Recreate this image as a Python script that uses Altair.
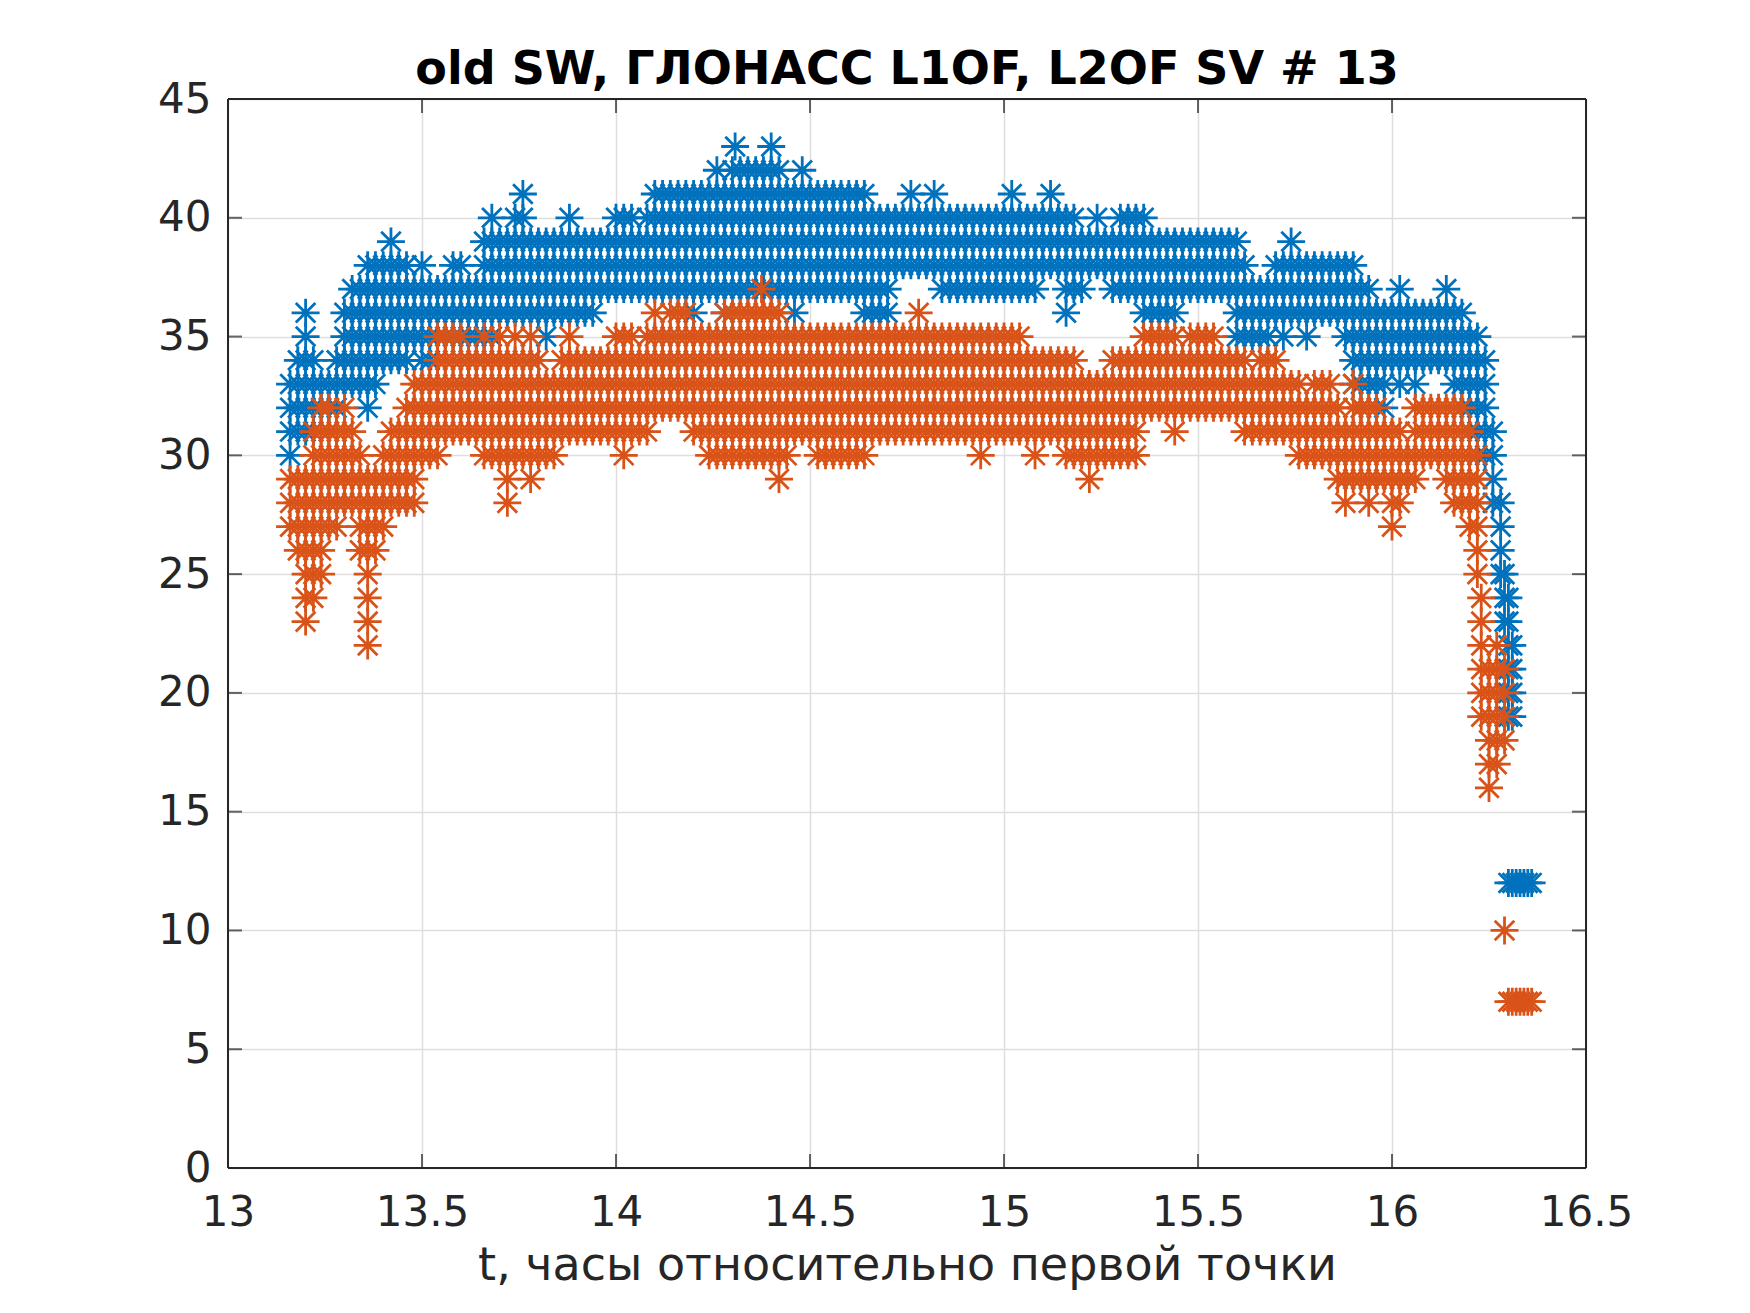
import altair as alt
import pandas as pd

TITLE = "old SW, ГЛОНАСС L1OF, L2OF SV # 13"
X_TITLE = "t, часы относительно первой точки"
X_TICKS = [13, 13.5, 14, 14.5, 15, 15.5, 16, 16.5]
Y_TICKS = [0, 5, 10, 15, 20, 25, 30, 35, 40, 45]
SERIES = ["L1OF", "L2OF"]
COLORS = ["#0072BD", "#D95319"]

# L1OF (blue): per time bin, lowest and highest C/N0 value present
BLUE_T = [13.16, 13.18, 13.20, 13.22, 13.24, 13.26, 13.28, 13.30, 13.32, 13.34,
          13.36, 13.38, 13.40, 13.42, 13.44, 13.46, 13.48, 13.50, 13.52, 13.54,
          13.56, 13.58, 13.60, 13.62, 13.64, 13.66, 13.68, 13.70, 13.72, 13.74,
          13.76, 13.78, 13.80, 13.82, 13.84, 13.86, 13.88, 13.90, 13.92, 13.94,
          13.96, 13.98, 14.00, 14.02, 14.04, 14.06, 14.08, 14.10, 14.12, 14.14,
          14.16, 14.18, 14.20, 14.22, 14.24, 14.26, 14.28, 14.30, 14.32, 14.34,
          14.36, 14.38, 14.40, 14.42, 14.44, 14.46, 14.48, 14.50, 14.52, 14.54,
          14.56, 14.58, 14.60, 14.62, 14.64, 14.66, 14.68, 14.70, 14.72, 14.74,
          14.76, 14.78, 14.80, 14.82, 14.84, 14.86, 14.88, 14.90, 14.92, 14.94,
          14.96, 14.98, 15.00, 15.02, 15.04, 15.06, 15.08, 15.10, 15.12, 15.14,
          15.16, 15.18, 15.20, 15.22, 15.24, 15.26, 15.28, 15.30, 15.32, 15.34,
          15.36, 15.38, 15.40, 15.42, 15.44, 15.46, 15.48, 15.50, 15.52, 15.54,
          15.56, 15.58, 15.60, 15.62, 15.64, 15.66, 15.68, 15.70, 15.72, 15.74,
          15.76, 15.78, 15.80, 15.82, 15.84, 15.86, 15.88, 15.90, 15.92, 15.94,
          15.96, 15.98, 16.00, 16.02, 16.04, 16.06, 16.08, 16.10, 16.12, 16.14,
          16.16, 16.18, 16.20, 16.22, 16.24, 16.26, 16.28, 16.29, 16.30, 16.31]
BLUE_LO = [30, 31, 31, 31, 32, 31, 32, 33, 33, 33,
           32, 33, 34, 34, 34, 34, 35, 34, 34, 35,
           35, 35, 35, 35, 35, 35, 35, 36, 36, 36,
           36, 36, 36, 35, 36, 36, 36, 36, 36, 36,
           37, 37, 37, 37, 37, 37, 37, 37, 37, 37,
           37, 37, 36, 37, 37, 37, 36, 37, 37, 37,
           37, 37, 37, 37, 37, 36, 37, 37, 37, 37,
           37, 37, 37, 37, 36, 36, 36, 36, 38, 38,
           38, 38, 38, 38, 37, 37, 37, 37, 37, 37,
           37, 37, 37, 37, 37, 37, 37, 38, 38, 38,
           36, 37, 37, 38, 38, 38, 37, 37, 37, 37,
           36, 36, 36, 36, 36, 37, 37, 37, 37, 37,
           37, 37, 35, 35, 35, 35, 35, 36, 35, 36,
           36, 35, 36, 36, 36, 36, 35, 33, 32, 33,
           33, 32, 34, 33, 34, 33, 34, 34, 34, 34,
           33, 32, 31, 30, 30, 28, 25, 23, 19, 19]
BLUE_HI = [33, 34, 36, 34, 33, 33, 34, 36, 37, 37,
           38, 38, 38, 39, 38, 38, 37, 38, 37, 37,
           37, 38, 38, 37, 37, 39, 40, 39, 39, 40,
           41, 39, 39, 39, 39, 39, 40, 39, 39, 39,
           39, 39, 40, 40, 40, 39, 40, 41, 41, 41,
           41, 41, 41, 41, 41, 42, 41, 42, 42, 42,
           42, 42, 42, 42, 41, 41, 42, 41, 41, 41,
           41, 41, 41, 41, 41, 40, 40, 40, 40, 40,
           41, 40, 40, 41, 40, 40, 40, 40, 40, 40,
           40, 40, 40, 41, 40, 40, 40, 40, 41, 40,
           40, 40, 39, 39, 40, 39, 39, 40, 40, 40,
           40, 39, 39, 39, 39, 39, 39, 39, 39, 39,
           39, 39, 39, 38, 37, 37, 37, 38, 38, 39,
           38, 38, 38, 38, 38, 38, 38, 38, 37, 37,
           36, 36, 36, 37, 36, 36, 36, 36, 36, 37,
           36, 36, 35, 35, 34, 31, 28, 25, 24, 22]

# L2OF (orange)
ORANGE_T = [13.16, 13.18, 13.20, 13.22, 13.24, 13.26, 13.28, 13.30, 13.32, 13.34,
            13.36, 13.38, 13.40, 13.42, 13.44, 13.46, 13.48, 13.50, 13.52, 13.54,
            13.56, 13.58, 13.60, 13.62, 13.64, 13.66, 13.68, 13.70, 13.72, 13.74,
            13.76, 13.78, 13.80, 13.82, 13.84, 13.86, 13.88, 13.90, 13.92, 13.94,
            13.96, 13.98, 14.00, 14.02, 14.04, 14.06, 14.08, 14.10, 14.12, 14.14,
            14.16, 14.18, 14.20, 14.22, 14.24, 14.26, 14.28, 14.30, 14.32, 14.34,
            14.36, 14.38, 14.40, 14.42, 14.44, 14.46, 14.48, 14.50, 14.52, 14.54,
            14.56, 14.58, 14.60, 14.62, 14.64, 14.66, 14.68, 14.70, 14.72, 14.74,
            14.76, 14.78, 14.80, 14.82, 14.84, 14.86, 14.88, 14.90, 14.92, 14.94,
            14.96, 14.98, 15.00, 15.02, 15.04, 15.06, 15.08, 15.10, 15.12, 15.14,
            15.16, 15.18, 15.20, 15.22, 15.24, 15.26, 15.28, 15.30, 15.32, 15.34,
            15.36, 15.38, 15.40, 15.42, 15.44, 15.46, 15.48, 15.50, 15.52, 15.54,
            15.56, 15.58, 15.60, 15.62, 15.64, 15.66, 15.68, 15.70, 15.72, 15.74,
            15.76, 15.78, 15.80, 15.82, 15.84, 15.86, 15.88, 15.90, 15.92, 15.94,
            15.96, 15.98, 16.00, 16.02, 16.04, 16.06, 16.08, 16.10, 16.12, 16.14,
            16.16, 16.18, 16.20, 16.22, 16.23, 16.25, 16.27, 16.29]
ORANGE_LO = [27, 26, 23, 24, 25, 27, 27, 28, 28, 26,
             22, 26, 27, 28, 28, 28, 28, 30, 30, 30,
             31, 31, 31, 31, 31, 30, 30, 30, 28, 30,
             30, 29, 30, 30, 30, 31, 31, 31, 31, 31,
             31, 31, 31, 30, 31, 31, 31, 32, 32, 32,
             32, 32, 31, 31, 30, 30, 30, 30, 30, 30,
             30, 30, 30, 29, 30, 31, 31, 31, 30, 30,
             30, 30, 30, 30, 30, 31, 31, 31, 31, 31,
             31, 31, 31, 31, 31, 31, 31, 31, 31, 30,
             31, 31, 31, 31, 31, 31, 30, 31, 31, 31,
             30, 30, 30, 29, 30, 30, 30, 30, 30, 30,
             32, 32, 32, 32, 31, 32, 32, 32, 32, 32,
             32, 32, 32, 31, 31, 31, 31, 31, 31, 31,
             30, 30, 30, 30, 30, 29, 28, 29, 29, 28,
             29, 29, 27, 28, 29, 29, 30, 30, 30, 29,
             28, 28, 27, 25, 19, 16, 17, 18]
ORANGE_HI = [29, 29, 29, 31, 32, 32, 31, 32, 31, 30,
             29, 29, 30, 31, 31, 32, 33, 33, 33, 35,
             35, 35, 35, 34, 34, 35, 34, 35, 34, 35,
             34, 35, 34, 33, 33, 34, 35, 34, 34, 34,
             34, 34, 35, 35, 35, 34, 35, 36, 35, 36,
             36, 36, 35, 35, 35, 35, 36, 36, 36, 36,
             36, 36, 36, 36, 35, 35, 35, 35, 35, 35,
             35, 35, 35, 35, 35, 35, 35, 35, 35, 35,
             35, 36, 35, 35, 35, 35, 35, 35, 35, 35,
             35, 35, 35, 35, 35, 34, 34, 34, 34, 34,
             34, 34, 33, 33, 33, 33, 34, 34, 34, 34,
             35, 35, 35, 35, 35, 34, 35, 35, 35, 35,
             34, 34, 34, 34, 33, 34, 34, 34, 33, 33,
             33, 32, 33, 33, 33, 32, 31, 33, 32, 32,
             32, 31, 31, 31, 30, 32, 32, 32, 32, 32,
             32, 32, 31, 30, 24, 21, 22, 21]

# isolated points
BLUE_EXTRA_T = [14.307, 14.40, 16.30, 16.31, 16.32, 16.33, 16.34, 16.35, 16.36]
BLUE_EXTRA_Y = [43, 43, 12, 12, 12, 12, 12, 12, 12]
ORANGE_EXTRA_T = [14.375, 16.29, 16.30, 16.31, 16.32, 16.33, 16.34, 16.35, 16.36]
ORANGE_EXTRA_Y = [37, 10, 7, 7, 7, 7, 7, 7, 7]

rows = []
for t, lo, hi in zip(BLUE_T, BLUE_LO, BLUE_HI):
    for v in range(lo, hi + 1):
        rows.append({"t": t, "v": v, "s": SERIES[0], "o": 0})
for t, v in zip(BLUE_EXTRA_T, BLUE_EXTRA_Y):
    rows.append({"t": t, "v": v, "s": SERIES[0], "o": 0})
for t, lo, hi in zip(ORANGE_T, ORANGE_LO, ORANGE_HI):
    for v in range(lo, hi + 1):
        rows.append({"t": t, "v": v, "s": SERIES[1], "o": 1})
for t, v in zip(ORANGE_EXTRA_T, ORANGE_EXTRA_Y):
    rows.append({"t": t, "v": v, "s": SERIES[1], "o": 1})
df = pd.DataFrame(rows)

W, H = 1358, 1069
AXC = "#262626"
FONT = "DejaVu Sans"
ASTER = "M-1,0L1,0M0,-1L0,1M-0.7,-0.7L0.7,0.7M-0.7,0.7L0.7,-0.7"

xscale = alt.Scale(domain=[13, 16.5], nice=False, zero=False)
yscale = alt.Scale(domain=[0, 45], nice=False, zero=False)

X_AXIS = alt.Axis(
    values=X_TICKS, format="~g", title=X_TITLE, ticks=False, domain=False,
    labelFont=FONT, labelFontSize=42, labelColor=AXC, labelPadding=24, labelFlush=False,
    titleFont=FONT, titleFontSize=46, titleFontWeight="normal", titleColor=AXC,
    titleBaseline="alphabetic", titleY=111,
    grid=True, gridColor="#DEDEDE", gridWidth=1.5)
Y_AXIS = alt.Axis(
    values=Y_TICKS, title="", ticks=False, domain=False,
    labelFont=FONT, labelFontSize=42, labelColor=AXC, labelPadding=17, labelFlush=False,
    grid=True, gridColor="#DEDEDE", gridWidth=1.5)

points = alt.Chart(df).mark_point(
    shape=ASTER, filled=False, size=784, strokeWidth=2.8, opacity=1
).encode(
    x=alt.X("t:Q", scale=xscale, axis=X_AXIS, title=X_TITLE),
    y=alt.Y("v:Q", scale=yscale, axis=Y_AXIS, title=""),
    color=alt.Color("s:N", scale=alt.Scale(domain=SERIES, range=COLORS), legend=None),
    order=alt.Order("o:Q"),
)

xt = pd.DataFrame({"t": X_TICKS})
yt = pd.DataFrame({"v": Y_TICKS})
tk = dict(size=14, thickness=2, color=AXC)
tick_bottom = alt.Chart(xt).mark_tick(orient="vertical", yOffset=-7, **tk).encode(
    x=alt.X("t:Q", scale=xscale, title=X_TITLE), y=alt.datum(0))
tick_top = alt.Chart(xt).mark_tick(orient="vertical", yOffset=7, **tk).encode(
    x=alt.X("t:Q", scale=xscale, title=X_TITLE), y=alt.datum(45))
tick_left = alt.Chart(yt).mark_tick(orient="horizontal", xOffset=7, **tk).encode(
    y=alt.Y("v:Q", scale=yscale, title=""), x=alt.datum(13))
tick_right = alt.Chart(yt).mark_tick(orient="horizontal", xOffset=-7, **tk).encode(
    y=alt.Y("v:Q", scale=yscale, title=""), x=alt.datum(16.5))

box = dict(color=AXC, strokeWidth=2)
edge_bottom = alt.Chart().mark_rule(**box).encode(y=alt.datum(0))
edge_top = alt.Chart().mark_rule(**box).encode(y=alt.datum(45))
edge_left = alt.Chart().mark_rule(**box).encode(x=alt.datum(13))
edge_right = alt.Chart().mark_rule(**box).encode(x=alt.datum(16.5))

chart = alt.layer(points, tick_bottom, tick_top, tick_left, tick_right,
                  edge_bottom, edge_top, edge_left, edge_right, data=df).properties(
    width=W, height=H,
    title=alt.TitleParams(TITLE, font=FONT, fontSize=46, fontWeight="bold", color="black",
                          anchor="middle", baseline="alphabetic", offset=0, dy=52),
    autosize=alt.AutoSizeParams(type="none"),
    padding={"left": 220, "top": 91, "right": 156, "bottom": 129},
).configure_view(strokeWidth=0).configure(background="white")

chart.save("out.html", embed_options={"renderer": "svg", "actions": False})
